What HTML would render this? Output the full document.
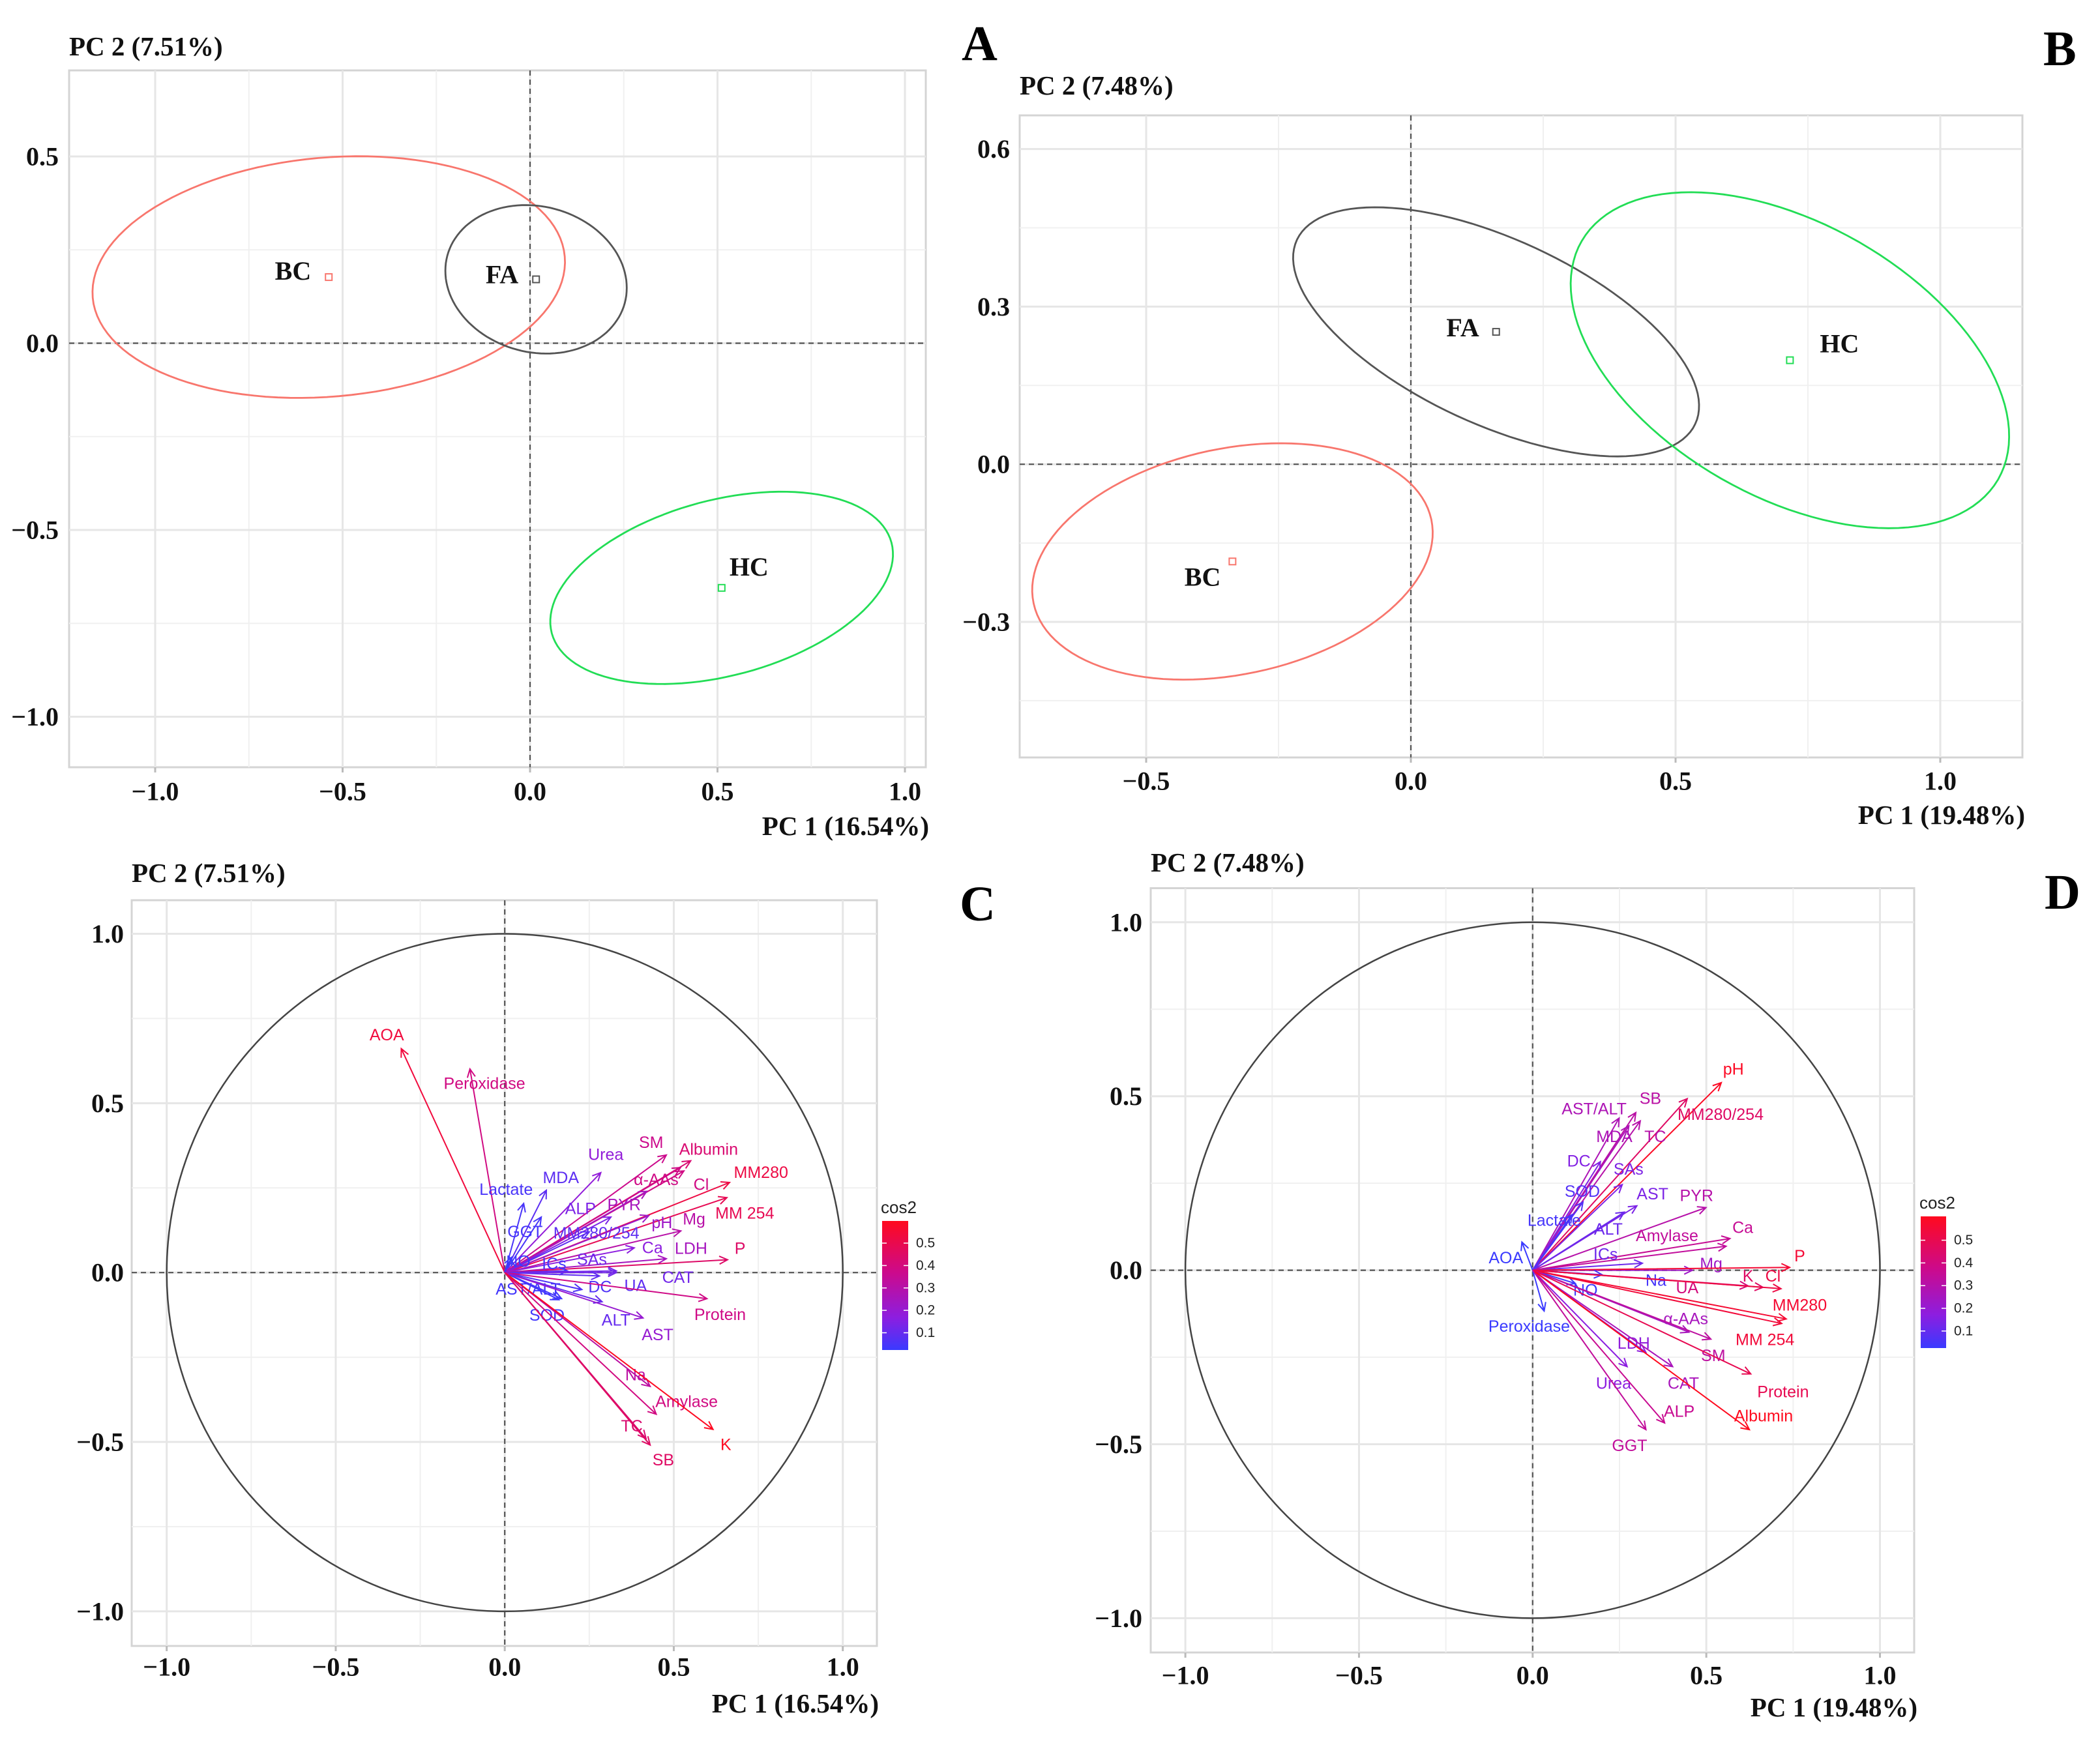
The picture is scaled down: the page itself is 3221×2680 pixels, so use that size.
<!DOCTYPE html>
<html><head><meta charset="utf-8"><title>PCA panels A-D</title>
<style>
html,body{margin:0;padding:0;background:#fff;}
svg{display:block;}
.tick{font-family:"Liberation Serif",serif;font-weight:bold;font-size:40px;fill:#111;}
.ttl{font-family:"Liberation Serif",serif;font-weight:bold;font-size:41px;fill:#111;}
.letter{font-family:"Liberation Serif",serif;font-weight:bold;font-size:76px;fill:#000;}
.grp{font-family:"Liberation Serif",serif;font-weight:bold;font-size:40px;fill:#111;}
.var{font-family:"Liberation Sans",sans-serif;font-size:25px;}
.cb{font-family:"Liberation Sans",sans-serif;font-size:21px;fill:#222;}
.cbt{font-family:"Liberation Sans",sans-serif;font-size:26px;fill:#222;}
</style></head>
<body>
<svg id="fig" xmlns="http://www.w3.org/2000/svg" width="3221" height="2680" viewBox="0 0 3221 2680">
<defs>
<linearGradient id="cosgrad" x1="0" y1="1" x2="0" y2="0">
<stop offset="0" stop-color="#3a3aff"/>
<stop offset="0.25" stop-color="#8c1ee0"/>
<stop offset="0.6" stop-color="#cc0a8c"/>
<stop offset="1" stop-color="#ff0a1e"/>
</linearGradient>
</defs>
</svg>
<script>
// ---------- Data: panel A (individuals, groups) ----------
const groupsA = ['BC','FA','HC'];
const meanXA = [-0.537, 0.016, 0.511];
const meanYA = [0.177, 0.171, -0.655];
const ellAA = [0.632, 0.245, 0.469];
const ellBA = [0.320, 0.195, 0.235];
const ellAngA = [5, -15, 15];
// ---------- Data: panel B ----------
const groupsB = ['BC','FA','HC'];
const meanXB = [-0.337, 0.161, 0.716];
const meanYB = [-0.185, 0.252, 0.198];
const ellAB = [0.384, 0.415, 0.454];
const ellBB = [0.215, 0.176, 0.260];
const ellAngB = [12, -25, -30];
// ---------- Data: panel C (variables) ----------
const namesC = ['AOA','Peroxidase','Lactate','MDA','GGT','Urea','SM','Albumin','α-AAs','Cl','MM280','MM 254','ALP','PYR','MM280/254','pH','Mg','Ca','LDH','P','NO','ICs','SAs','CAT','AST/ALT','DC','UA','Protein','SOD','ALT','AST','Na','Amylase','TC','K','SB'];
const pc1C = [-0.306,-0.103,0.056,0.123,0.108,0.284,0.478,0.55,0.52,0.53,0.665,0.657,0.314,0.42,0.25,0.426,0.521,0.383,0.478,0.659,0.02,0.185,0.33,0.33,0.168,0.228,0.28,0.598,0.16,0.288,0.409,0.43,0.448,0.418,0.616,0.43];
const pc2C = [0.661,0.601,0.204,0.243,0.164,0.295,0.347,0.33,0.31,0.30,0.266,0.221,0.164,0.24,0.12,0.168,0.123,0.073,0.041,0.038,0.045,0.005,0.005,0.0,-0.077,-0.05,-0.01,-0.077,-0.08,-0.086,-0.134,-0.336,-0.418,-0.49,-0.463,-0.509];
const labX_C = [-0.349,-0.060,0.004,0.166,0.060,0.299,0.433,0.603,0.448,0.581,0.758,0.710,0.224,0.353,0.271,0.465,0.560,0.437,0.551,0.696,0.040,0.146,0.258,0.512,0.069,0.282,0.387,0.637,0.125,0.329,0.452,0.387,0.538,0.376,0.654,0.469];
const labY_C = [0.701,0.557,0.245,0.279,0.120,0.348,0.383,0.363,0.274,0.259,0.295,0.175,0.188,0.200,0.116,0.147,0.157,0.073,0.071,0.071,0.032,0.025,0.038,-0.015,-0.050,-0.043,-0.039,-0.125,-0.127,-0.141,-0.184,-0.303,-0.382,-0.454,-0.509,-0.554];
// ---------- Data: panel D (variables) ----------
const namesD = ['pH','MM280/254','SB','AST/ALT','TC','MDA','DC','SAs','SOD','Lactate','AST','PYR','ALT','Amylase','Ca','ICs','AOA','Mg','P','Na','UA','K','Cl','NO','MM280','Peroxidase','α-AAs','MM 254','LDH','SM','Urea','CAT','Protein','ALP','Albumin','GGT'];
const pc1D = [0.543,0.445,0.297,0.249,0.310,0.277,0.195,0.258,0.145,0.114,0.300,0.499,0.264,0.557,0.568,0.316,-0.031,0.46,0.74,0.20,0.62,0.663,0.715,0.123,0.730,0.033,0.45,0.717,0.326,0.513,0.272,0.403,0.628,0.380,0.624,0.326];
const pc2D = [0.539,0.493,0.453,0.437,0.429,0.415,0.312,0.246,0.196,0.160,0.185,0.180,0.167,0.069,0.091,0.020,0.081,0.0,0.008,-0.013,-0.045,-0.049,-0.053,-0.038,-0.140,-0.117,-0.178,-0.153,-0.236,-0.198,-0.277,-0.277,-0.298,-0.439,-0.458,-0.458];
const labX_D = [0.578,0.541,0.339,0.177,0.353,0.235,0.133,0.276,0.143,0.062,0.345,0.472,0.218,0.387,0.605,0.210,-0.077,0.514,0.769,0.355,0.445,0.620,0.692,0.152,0.769,-0.010,0.441,0.669,0.291,0.520,0.233,0.434,0.721,0.422,0.665,0.279];
const labY_D = [0.577,0.447,0.493,0.463,0.383,0.383,0.313,0.290,0.226,0.143,0.218,0.214,0.117,0.099,0.122,0.045,0.035,0.018,0.040,-0.030,-0.051,-0.018,-0.018,-0.058,-0.101,-0.162,-0.140,-0.200,-0.211,-0.246,-0.326,-0.326,-0.350,-0.406,-0.419,-0.505];
// ---------- Tick arrays ----------
const ticksX_A = [-1.0,-0.5,0.0,0.5,1.0];
const ticksY_A = [0.5,0.0,-0.5,-1.0];
const minorX_A = [-0.75,-0.25,0.25,0.75];
const minorY_A = [0.25,-0.25,-0.75];
const ticksX_B = [-0.5,0.0,0.5,1.0];
const ticksY_B = [0.6,0.3,0.0,-0.3];
const minorX_B = [-0.25,0.25,0.75];
const minorY_B = [0.45,0.15,-0.15,-0.45];
const ticksCD = [-1.0,-0.5,0.0,0.5,1.0];
const minorCD = [-0.75,-0.25,0.25,0.75];
const cbTicks = [0.1,0.2,0.3,0.4,0.5];
const groupColors = ['#f8766d','#555555','#22dd55'];

const NS = 'http://www.w3.org/2000/svg';
const svg = document.getElementById('fig');
function mk(tag, parent){ const e = document.createElementNS(NS, tag); parent.appendChild(e); return e; }
function fmt(v){ return (v<0?'\u2212':'') + Math.abs(v).toFixed(1); }

const panels = {
  A:{left:106,top:108,right:1420,bottom:1177,x0:813,xu:575,y0:526.5,yu:573,ylabX:90,xlabY:1214,
     t2:[106,85],t1:[1425,1281],title2:'PC 2 (7.51%)',title1:'PC 1 (16.54%)',letter:'A',lpos:[1475,92]},
  B:{left:1564,top:177,right:3102,bottom:1162,x0:2164,xu:812,y0:712.2,yu:806,ylabX:1549,xlabY:1198,
     t2:[1564,145],t1:[3106,1264],title2:'PC 2 (7.48%)',title1:'PC 1 (19.48%)',letter:'B',lpos:[3134,100]},
  C:{left:202,top:1381,right:1345,bottom:2525,x0:774.2,xu:518.5,y0:1952.2,yu:519.7,ylabX:190,xlabY:2557,
     t2:[202,1353],t1:[1348,2627],title2:'PC 2 (7.51%)',title1:'PC 1 (16.54%)',letter:'C',lpos:[1472,1412],
     cb:[1353,1873,40,198],cbTop:0.599,cbBot:0.023},
  D:{left:1765,top:1362.5,right:2936,bottom:2535,x0:2350.8,xu:532.7,y0:1948.6,yu:533.8,ylabX:1752,xlabY:2570,
     t2:[1765,1337],t1:[2941,2633],title2:'PC 2 (7.48%)',title1:'PC 1 (19.48%)',letter:'D',lpos:[3136,1394],
     cb:[2946,1866,39,202],cbTop:0.605,cbBot:0.025}
};
function sx(p,v){ return p.x0 + v*p.xu; }
function sy(p,v){ return p.y0 - v*p.yu; }

function drawFrame(key, tx, ty, mx, my){
  const p = panels[key];
  const g = mk('g', svg);
  
  
  const bg = mk('rect', g);
  
  
  bg.setAttribute('x', p.left); bg.setAttribute('y', p.top);
  bg.setAttribute('width', p.right-p.left); bg.setAttribute('height', p.bottom-p.top);
  bg.setAttribute('fill', '#fff'); bg.setAttribute('stroke', '#d4d4d4'); bg.setAttribute('stroke-width', '3');
  mx.forEach(v => {
    const l = mk('line', g);
    
    
    l.setAttribute('x1', sx(p,v)); l.setAttribute('x2', sx(p,v)); l.setAttribute('y1', p.top); l.setAttribute('y2', p.bottom);
    l.setAttribute('stroke', '#f0f0f0'); l.setAttribute('stroke-width', '2');
  });
  my.forEach(v => {
    const l = mk('line', g);
    
    
    l.setAttribute('y1', sy(p,v)); l.setAttribute('y2', sy(p,v)); l.setAttribute('x1', p.left); l.setAttribute('x2', p.right);
    l.setAttribute('stroke', '#f0f0f0'); l.setAttribute('stroke-width', '2');
  });
  tx.forEach(v => {
    const l = mk('line', g);
    
    
    l.setAttribute('x1', sx(p,v)); l.setAttribute('x2', sx(p,v)); l.setAttribute('y1', p.top); l.setAttribute('y2', p.bottom);
    l.setAttribute('stroke', '#e6e6e6'); l.setAttribute('stroke-width', '3');
    const tk = mk('line', g);
    
    
    tk.setAttribute('x1', sx(p,v)); tk.setAttribute('x2', sx(p,v)); tk.setAttribute('y1', p.bottom); tk.setAttribute('y2', p.bottom+8);
    tk.setAttribute('stroke', '#bbb'); tk.setAttribute('stroke-width', '3');
    const t = mk('text', g);
    
    
    t.setAttribute('class', 'tick'); t.setAttribute('x', sx(p,v)); t.setAttribute('y', p.xlabY);
    t.setAttribute('text-anchor', 'middle'); t.setAttribute('dominant-baseline', 'central');
    t.textContent = fmt(v);
  });
  ty.forEach(v => {
    const l = mk('line', g);
    
    
    l.setAttribute('y1', sy(p,v)); l.setAttribute('y2', sy(p,v)); l.setAttribute('x1', p.left); l.setAttribute('x2', p.right);
    l.setAttribute('stroke', '#e6e6e6'); l.setAttribute('stroke-width', '3');
    const t = mk('text', g);
    
    
    t.setAttribute('class', 'tick'); t.setAttribute('x', p.ylabX); t.setAttribute('y', sy(p,v));
    t.setAttribute('text-anchor', 'end'); t.setAttribute('dominant-baseline', 'central');
    t.textContent = fmt(v);
  });
  const h = mk('line', g);
  
  
  h.setAttribute('x1', p.left); h.setAttribute('x2', p.right); h.setAttribute('y1', sy(p,0)); h.setAttribute('y2', sy(p,0));
  h.setAttribute('stroke', '#555'); h.setAttribute('stroke-width', '2.2'); h.setAttribute('stroke-dasharray', '8 6');
  const vline = mk('line', g);
  
  
  vline.setAttribute('y1', p.top); vline.setAttribute('y2', p.bottom); vline.setAttribute('x1', sx(p,0)); vline.setAttribute('x2', sx(p,0));
  vline.setAttribute('stroke', '#555'); vline.setAttribute('stroke-width', '2.2'); vline.setAttribute('stroke-dasharray', '8 6');
  const t2 = mk('text', g);
  
  
  t2.setAttribute('class', 'ttl'); t2.setAttribute('x', p.t2[0]); t2.setAttribute('y', p.t2[1]);
  t2.textContent = p.title2;
  const t1 = mk('text', g);
  
  
  t1.setAttribute('class', 'ttl'); t1.setAttribute('x', p.t1[0]); t1.setAttribute('y', p.t1[1]); t1.setAttribute('text-anchor', 'end');
  t1.textContent = p.title1;
  const lt = mk('text', g);
  
  
  lt.setAttribute('class', 'letter'); lt.setAttribute('x', p.lpos[0]); lt.setAttribute('y', p.lpos[1]);
  lt.textContent = p.letter;
  return g;
}

function drawGroups(key, names, mx, my, ea, eb, ang, labDx, labDy, anchors){
  const p = panels[key];
  const g = drawFrame(key, key==='A'?ticksX_A:ticksX_B, key==='A'?ticksY_A:ticksY_B, key==='A'?minorX_A:minorX_B, key==='A'?minorY_A:minorY_B);
  names.forEach((n,i) => {
    const th = ang[i]*Math.PI/180;
    let d = '';
    for (let k=0; k<=120; k++){
      const t = k/120*2*Math.PI;
      const u = ea[i]*Math.cos(t), w = eb[i]*Math.sin(t);
      const dx = mx[i] + u*Math.cos(th) - w*Math.sin(th);
      const dy = my[i] + u*Math.sin(th) + w*Math.cos(th);
      d += (k? 'L':'M') + sx(p,dx).toFixed(1) + ' ' + sy(p,dy).toFixed(1);
    }
    const e = mk('path', g);
    
    
    e.setAttribute('d', d + 'Z'); e.setAttribute('fill', 'none'); e.setAttribute('stroke', groupColors[i]); e.setAttribute('stroke-width', '2.8');
    const pt = mk('rect', g);
    
    
    pt.setAttribute('x', sx(p,mx[i])-5); pt.setAttribute('y', sy(p,my[i])-5); pt.setAttribute('width', 10); pt.setAttribute('height', 10);
    pt.setAttribute('fill', 'none'); pt.setAttribute('stroke', groupColors[i]); pt.setAttribute('stroke-width', '2');
    const tl = mk('text', g);
    
    
    tl.setAttribute('class', 'grp'); tl.setAttribute('x', sx(p,mx[i])+labDx[i]); tl.setAttribute('y', sy(p,my[i])+labDy[i]);
    tl.setAttribute('text-anchor', anchors[i]);
    tl.textContent = n;
  });
}

function cosColor(c){
  const stops = [[0.02,[58,58,255]],[0.15,[140,30,224]],[0.35,[204,10,140]],[0.6,[255,10,30]]];
  if (c<=stops[0][0]) return 'rgb('+stops[0][1].join(',')+')';
  for (let i=1;i<stops.length;i++){
    if (c<=stops[i][0]){
      const f=(c-stops[i-1][0])/(stops[i][0]-stops[i-1][0]);
      const a=stops[i-1][1], b=stops[i][1];
      return 'rgb('+a.map((v,j)=>Math.round(v+(b[j]-v)*f)).join(',')+')';
    }
  }
  return 'rgb(255,10,30)';
}

function drawVars(key, names, xs, ys, lx, ly){
  const p = panels[key];
  const g = drawFrame(key, ticksCD, ticksCD, minorCD, minorCD);
  const c = mk('ellipse', g);
  
  
  c.setAttribute('cx', sx(p,0)); c.setAttribute('cy', sy(p,0)); c.setAttribute('rx', p.xu); c.setAttribute('ry', p.yu);
  c.setAttribute('fill', 'none'); c.setAttribute('stroke', '#444'); c.setAttribute('stroke-width', '2.5');
  const ox = sx(p,0), oy = sy(p,0);
  names.forEach((n,i) => {
    const col = cosColor(xs[i]*xs[i] + ys[i]*ys[i]);
    const ex = sx(p,xs[i]), ey = sy(p,ys[i]);
    const a = Math.atan2(ey-oy, ex-ox);
    const hl = 14, ha = 0.45;
    const ar = mk('path', g);
    
    
    ar.setAttribute('d', 'M'+ox+' '+oy+'L'+ex.toFixed(1)+' '+ey.toFixed(1)+
      'M'+(ex-hl*Math.cos(a-ha)).toFixed(1)+' '+(ey-hl*Math.sin(a-ha)).toFixed(1)+'L'+ex.toFixed(1)+' '+ey.toFixed(1)+
      'L'+(ex-hl*Math.cos(a+ha)).toFixed(1)+' '+(ey-hl*Math.sin(a+ha)).toFixed(1));
    ar.setAttribute('fill', 'none'); ar.setAttribute('stroke', col); ar.setAttribute('stroke-width', '2');
    const t = mk('text', g);
    
    
    t.setAttribute('class', 'var'); t.setAttribute('x', sx(p,lx[i])); t.setAttribute('y', sy(p,ly[i]));
    t.setAttribute('text-anchor', 'middle'); t.setAttribute('dominant-baseline', 'central'); t.setAttribute('fill', col);
    t.textContent = n;
  });
  const [bx,by,bw,bh] = p.cb;
  const lg = mk('g', g);
  
  
  const tt = mk('text', lg);
  
  
  tt.setAttribute('class', 'cbt'); tt.setAttribute('x', bx-2); tt.setAttribute('y', by-12);
  tt.textContent = 'cos2';
  const bar = mk('rect', lg);
  
  
  bar.setAttribute('x', bx); bar.setAttribute('y', by); bar.setAttribute('width', bw); bar.setAttribute('height', bh);
  bar.setAttribute('fill', 'url(#cosgrad)');
  cbTicks.forEach(v => {
    const yy = by + (p.cbTop - v)/(p.cbTop - p.cbBot)*bh;
    const k1 = mk('line', lg);
    
    
    k1.setAttribute('x1', bx); k1.setAttribute('x2', bx+7); k1.setAttribute('y1', yy); k1.setAttribute('y2', yy);
    k1.setAttribute('stroke', '#fff'); k1.setAttribute('stroke-width', '1.5');
    const k2 = mk('line', lg);
    
    
    k2.setAttribute('x1', bx+bw-7); k2.setAttribute('x2', bx+bw); k2.setAttribute('y1', yy); k2.setAttribute('y2', yy);
    k2.setAttribute('stroke', '#fff'); k2.setAttribute('stroke-width', '1.5');
    const tl = mk('text', lg);
    
    
    tl.setAttribute('class', 'cb'); tl.setAttribute('x', bx+bw+12); tl.setAttribute('y', yy);
    tl.setAttribute('dominant-baseline', 'central');
    tl.textContent = v.toFixed(1);
  });
}

drawGroups('A', groupsA, meanXA, meanYA, ellAA, ellBA, ellAngA, [-27,-27,12], [4,6,-19], ['end','end','start']);
drawGroups('B', groupsB, meanXB, meanYB, ellAB, ellBB, ellAngB, [-18,-26,46], [37,7,-12], ['end','end','start']);
drawVars('C', namesC, pc1C, pc2C, labX_C, labY_C);
drawVars('D', namesD, pc1D, pc2D, labX_D, labY_D);
</script>
</body></html>
